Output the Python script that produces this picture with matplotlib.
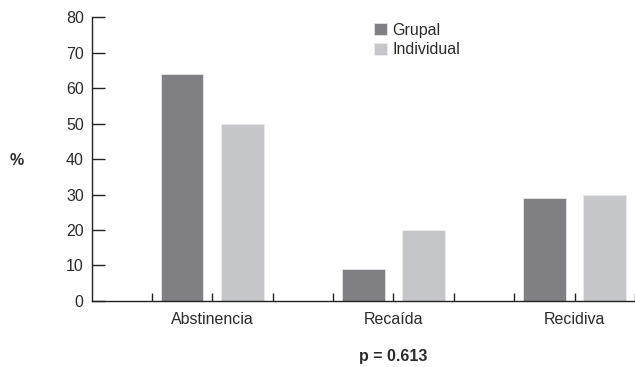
import numpy as np
import matplotlib.pyplot as plt

categories = ['Abstinencia', 'Recaída', 'Recidiva']
grupal = [64, 9, 29]
individual = [50, 20, 30]
series_names = ['Grupal', 'Individual']

plt.rcParams['font.family'] = ['Liberation Sans', 'DejaVu Sans']
txt = '#2b2b2b'
c_dark = '#807f84'
c_light = '#c5c6c9'
fs = 11.5

fig = plt.figure(figsize=(6.35, 3.67), dpi=100)
ax = fig.add_axes([0.145, 0.18, 0.857, 0.773])

x = np.arange(len(categories))
slot = 1 / 3
w = 0.237
ax.bar(x - slot / 2, grupal, w, color=c_dark, edgecolor='#e6e6e6', linewidth=0.6, label=series_names[0])
ax.bar(x + slot / 2, individual, w, color=c_light, edgecolor='#ececec', linewidth=0.6, label=series_names[1])

ax.set_xlim(-0.663, 2.34)
ax.set_ylim(0, 80)
ax.set_yticks(range(0, 81, 10))

# ticks at slot boundaries, labels at group centres
ax.set_xticks(np.concatenate([x - slot, x, x + slot]))
ax.set_xticklabels([])
for xi, cat in zip(x, categories):
    ax.text(xi, -0.04, cat, transform=ax.get_xaxis_transform(), ha='center', va='top',
            fontsize=fs, color=txt)
ax.tick_params(axis='x', direction='in', length=6, width=1, color='#222222')
ax.tick_params(axis='y', direction='in', length=9.5, width=1, color='#222222',
               pad=6, labelsize=fs, labelcolor=txt)

for s in ['top', 'right']:
    ax.spines[s].set_visible(False)
for s in ['left', 'bottom']:
    ax.spines[s].set_color('#222222')
    ax.spines[s].set_linewidth(1)

fig.text(17 / 635, 1 - 161 / 367, '%', ha='center', va='center', fontsize=fs,
         fontweight='bold', color=txt)
fig.text(393 / 635, 1 - 357 / 367, 'p = 0.613', ha='center', va='center', fontsize=fs,
         fontweight='bold', color=txt)

ax.legend(loc='upper left', bbox_to_anchor=(0.5065, 1.004), frameon=False, fontsize=fs,
          handlelength=0.8, handleheight=0.8, handletextpad=0.35, labelspacing=0.3,
          borderaxespad=0, labelcolor=txt)

fig.savefig('out.png', dpi=100)
